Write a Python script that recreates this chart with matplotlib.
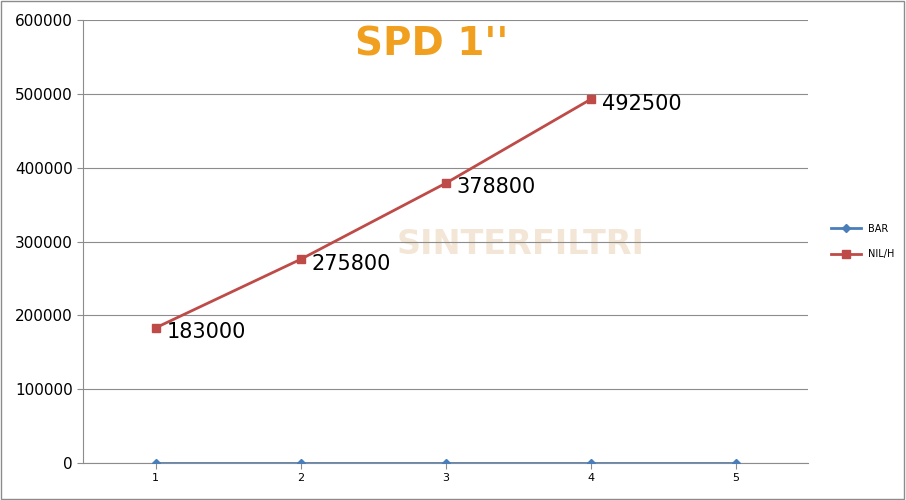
import matplotlib.pyplot as plt
from matplotlib.patches import Rectangle

categories = [1, 2, 3, 4, 5]
bar_values = [0, 0, 0, 0, 0]
nil_cats = [1, 2, 3, 4]
nil_values = [183000, 275800, 378800, 492500]
y_ticks = [0, 100000, 200000, 300000, 400000, 500000, 600000]

fig = plt.figure(figsize=(9.06, 5), dpi=100)
ax = fig.add_axes([0.0916, 0.074, 0.8004, 0.886])

ax.plot(categories, bar_values, "D-", color="#4a7ebb", linewidth=2, markersize=4, label="BAR", zorder=3)
ax.plot(nil_cats, nil_values, "s-", color="#be4b48", linewidth=2, markersize=6, label="NIL/H", zorder=3)
for x, v in zip(nil_cats, nil_values):
    ax.annotate(f"{v}", (x, v), xytext=(8, -3), textcoords="offset points",
                fontsize=15, va="center", ha="left")

ax.set_xlim(0.5, 5.5)
ax.set_ylim(0, 600000)
ax.set_xticks(categories)
ax.set_xticklabels([str(c) for c in categories], fontsize=8)
ax.set_yticks(y_ticks)
ax.set_yticklabels([str(t) for t in y_ticks], fontsize=11)
ax.grid(axis="y", color="#8c8c8c", linewidth=0.8)
ax.set_axisbelow(True)
for side in ["top", "right"]:
    ax.spines[side].set_visible(False)
ax.spines["left"].set_color("#8c8c8c")
ax.spines["bottom"].set_color("#8c8c8c")
ax.tick_params(axis="x", length=4, color="#8c8c8c")
ax.tick_params(axis="y", length=4, color="#8c8c8c")

# faint watermark, drawn under the axes
ax.patch.set_alpha(0)
fig.text(0.575, 0.51, "SINTERFILTRI", fontsize=24, fontweight="bold", color="#f3e6d6",
         ha="center", va="center", zorder=-1)

fig.text(0.477, 0.912, "SPD 1''", fontsize=28, fontweight="bold", color="#f0a01e",
         ha="center", va="center")

ax.legend(loc="center left", bbox_to_anchor=(1.02, 0.5), frameon=False, fontsize=7,
          handlelength=3, labelspacing=1.6)

fig.patches.append(Rectangle((0.001, 0.002), 0.997, 0.996, transform=fig.transFigure,
                             fill=False, edgecolor="#8c8c8c", linewidth=1))

fig.savefig("out.png", dpi=100)
